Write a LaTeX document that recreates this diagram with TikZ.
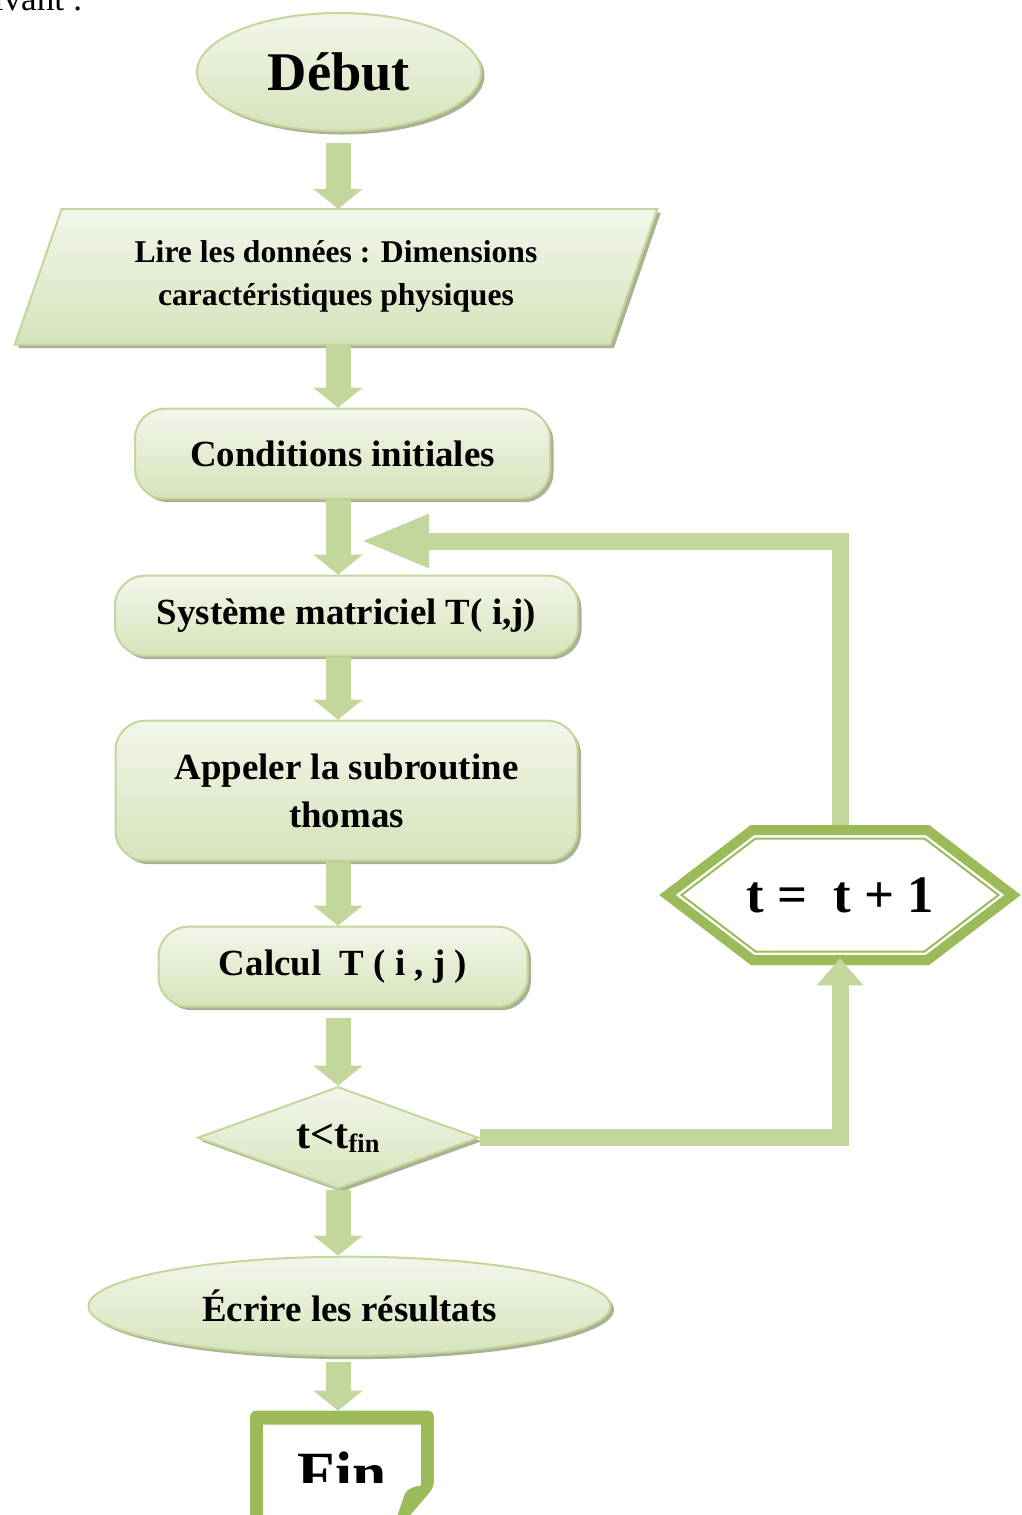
\documentclass[tikz,border=0pt]{standalone}
\usepackage{fontspec}
\setmainfont{Liberation Serif}
\usetikzlibrary{arrows.meta, positioning, shapes.geometric, shadows, backgrounds}

\definecolor{arrowgreen}{HTML}{C3D69B}
\definecolor{boxedge}{HTML}{C3D69B}
\definecolor{boxtop}{HTML}{F2F6EA}
\definecolor{boxbottom}{HTML}{D6E3BB}
\definecolor{boxshade}{HTML}{A9B293}
\definecolor{olivegreen}{HTML}{9BBB59}

\begin{document}
\begin{tikzpicture}[
  box/.style={draw=boxedge, line width=0.04cm, top color=boxtop, bottom color=boxbottom,
    drop shadow={shadow xshift=0.07cm, shadow yshift=-0.07cm, fill=boxshade, opacity=1},
    font=\bfseries\fontsize{21}{27}\selectfont, align=center, inner sep=0pt},
  roundbox/.style={box, rectangle, rounded corners=0.6cm},
  ovalbox/.style={box, ellipse},
  flow/.style={draw=arrowgreen, line width=0.5cm,
    -{Triangle[length=0.4cm 0 0, width=0.96cm 0 0]}},
  loopline/.style={draw=arrowgreen, line width=0.34cm}]

  \useasboundingbox (0,0) rectangle (20.44,-30.3);
  \clip (0,0) rectangle (20.44,-30.3);

  \node[font=\fontsize{20}{24}\selectfont, anchor=base east, inner sep=0pt] (intro)
    at (1.66,-0.2) {suivant :};

  \node[ovalbox, minimum width=5.68cm, minimum height=2.36cm,
        font=\bfseries\fontsize{31}{36}\selectfont] (debut) at (6.78,-1.44) {Début};
  \node[font=\bfseries\fontsize{18}{24.4}\selectfont, align=center,
        minimum width=11.9cm, minimum height=2.7cm,
        below=1.54cm of debut, xshift=-0.06cm] (lire)
        {Lire les données : Dimensions\\caractéristiques physiques};
  \node[roundbox, minimum width=8.3cm, minimum height=1.8cm,
        below=1.26cm of lire, xshift=0.13cm] (cond) {Conditions initiales};
  \node[roundbox, minimum width=9.26cm, minimum height=1.6cm,
        below=1.5cm of cond, xshift=0.08cm] (sys) {Système matriciel T( i,j)};
  \node[roundbox, minimum width=9.24cm, minimum height=2.8cm,
        below=1.26cm of sys] (app) {Appeler la subroutine\\thomas};
  \node[roundbox, minimum width=7.38cm, minimum height=1.6cm,
        below=1.28cm of app, xshift=-0.07cm] (calc) {Calcul\ \ T ( i , j )};
  \node[box, diamond, aspect=2.75, minimum width=5.62cm, minimum height=2.04cm,
        font=\bfseries\fontsize{24}{28}\selectfont,
        below=1.56cm of calc, xshift=-0.1cm] (test)
        {t<t\raisebox{-0.08cm}{\fontsize{15}{15}\selectfont fin}};
  \node[ovalbox, minimum width=10.44cm, minimum height=1.98cm,
        below=1.32cm of test, xshift=0.23cm] (ecrire) {Écrire les résultats};
  \node[minimum width=3.66cm, minimum height=2.34cm, inner sep=0pt,
        below=1.08cm of ecrire, xshift=-0.15cm] (finbox) {};

  \fill[olivegreen, rounded corners=0.12cm] (finbox.north west) -- (finbox.north east)
    -- ([yshift=0.82cm]finbox.south east) -- ([xshift=-0.7cm]finbox.south east)
    -- (finbox.south west) -- cycle;
  \fill[white] ([shift={(0.26cm,-0.28cm)}]finbox.north west)
    -- ([shift={(-0.26cm,-0.28cm)}]finbox.north east)
    -- ([shift={(-0.26cm,0.86cm)}]finbox.south east)
    .. controls ([shift={(-0.4cm,0.84cm)}]finbox.south east)
    and ([shift={(-0.52cm,0.8cm)}]finbox.south east) .. ([shift={(-0.58cm,0.7cm)}]finbox.south east)
    -- ([xshift=-0.82cm]finbox.south east) -- ([xshift=0.26cm]finbox.south west) -- cycle;
  \begin{scope}
    \clip (finbox.north west) rectangle ([yshift=0.92cm]finbox.south east);
    \node[font=\bfseries\fontsize{35}{40}\selectfont, anchor=base, inner sep=0pt] (fin)
      at ([yshift=0.68cm]finbox.south) {Fin};
  \end{scope}

  \node[font=\bfseries\fontsize{30}{34}\selectfont, minimum width=7.22cm,
        minimum height=2.8cm, inner sep=0pt] (incr) at (16.8,-17.9) {t =\ \ t + 1};

  \begin{scope}[on background layer]
    \path[draw=boxedge, line width=0.04cm, top color=boxtop, bottom color=boxbottom,
          drop shadow={shadow xshift=0.07cm, shadow yshift=-0.07cm, fill=boxshade, opacity=1}]
      ([xshift=0.47cm]lire.north west) -- ([xshift=0.47cm]lire.north east)
      -- ([xshift=-0.47cm]lire.south east) -- ([xshift=-0.47cm]lire.south west) -- cycle;
  \end{scope}
  \begin{scope}[on background layer, shift={(incr.center)}]
    \draw[olivegreen, line width=0.2cm, fill=white] (-3.45,0) -- (-1.75,1.3) -- (1.75,1.3)
      -- (3.45,0) -- (1.75,-1.3) -- (-1.75,-1.3) -- cycle;
    \draw[olivegreen, line width=0.04cm] (-3.17,0) -- (-1.69,1.13) -- (1.69,1.13)
      -- (3.17,0) -- (1.69,-1.13) -- (-1.69,-1.13) -- cycle;
  \end{scope}

  \coordinate (axis) at (6.76,0);
  \coordinate (back) at (7.2,-10.82);
  \draw[flow, shorten <=0.22cm] (axis |- debut.south) -- (axis |- lire.north);
  \draw[flow] (axis |- lire.south) -- (axis |- cond.north);
  \draw[flow] (axis |- cond.south) -- (axis |- sys.north);
  \draw[flow] (axis |- sys.south) -- (axis |- app.north);
  \draw[flow] (axis |- app.south) -- (axis |- calc.north);
  \draw[flow, shorten <=0.2cm] (axis |- calc.south) -- (axis |- test.north);
  \draw[flow] (axis |- test.south) -- (axis |- ecrire.north);
  \draw[flow, shorten <=0.1cm] (axis |- ecrire.south) -- (axis |- finbox.north);

  \draw[loopline, -{Triangle[length=0.54cm 0 0, width=0.9cm 0 0]}]
    (test.east) -| ([yshift=0.14cm]incr.south);
  \draw[loopline, -{Triangle[length=1.38cm 0 0, width=0.98cm 0 0]}]
    (incr.north) |- (back);
\end{tikzpicture}
\end{document}
